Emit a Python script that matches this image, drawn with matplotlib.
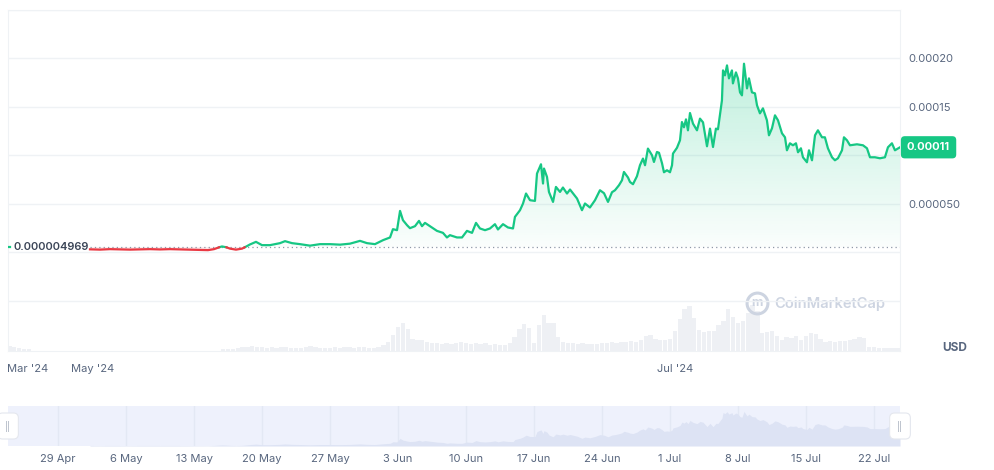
import matplotlib.colors as mcolors
import matplotlib.pyplot as plt
import numpy as np
from matplotlib.patches import PathPatch
from matplotlib.path import Path

plt.rcParams["font.family"] = ["Inter", "DejaVu Sans"]

# time axis: days counted from 29 Apr 2024
days = [
    3.29, 4.32, 5.35, 6.38, 7.41, 8.44, 9.47, 10.50, 11.53, 12.56,
    13.59, 14.62, 15.44, 16.06, 16.47, 16.88, 17.29, 17.71, 18.32, 18.94,
    19.35, 19.76, 20.38, 21.00, 21.82, 22.85, 23.37, 24.09, 24.91, 25.94,
    26.97, 28.00, 29.03, 30.06, 31.09, 31.81, 32.63, 33.46, 34.18, 34.48,
    34.90, 35.21, 35.51, 35.93, 36.23, 36.75, 37.16, 37.47, 37.78, 38.29,
    39.01, 39.63, 40.04, 40.35, 41.07, 41.59, 42.10, 42.62, 43.03, 43.44,
    43.96, 44.47, 44.98, 45.29, 45.81, 46.32, 46.84, 47.04, 47.56, 47.87,
    48.18, 48.59, 49.10, 49.31, 49.72, 49.93, 50.03, 50.34, 50.54, 50.96,
    51.26, 51.68, 51.98, 52.40, 52.71, 53.43, 53.94, 54.25, 54.76, 55.28,
    55.79, 56.21, 56.62, 57.03, 57.34, 57.75, 58.06, 58.26, 58.68, 58.88,
    59.19, 59.60, 59.91, 60.22, 60.43, 60.73, 61.15, 61.35, 61.66, 61.87,
    62.18, 62.38, 62.69, 63.00, 63.21, 63.31, 63.72, 64.03, 64.23, 64.44,
    64.65, 64.85, 65.06, 65.37, 65.78, 66.09, 66.40, 66.81, 67.12, 67.43,
    67.73, 67.94, 68.15, 68.35, 68.46, 68.66, 68.87, 69.07, 69.38, 69.48,
    69.79, 70.00, 70.21, 70.41, 70.62, 70.93, 71.13, 71.44, 71.75, 71.96,
    72.26, 72.57, 72.98, 73.19, 73.50, 73.81, 74.12, 74.53, 74.84, 75.04,
    75.35, 75.66, 75.97, 76.18, 76.48, 76.69, 77.10, 77.31, 77.62, 77.93,
    78.23, 78.65, 78.95, 79.26, 79.68, 79.98, 80.29, 80.71, 80.91, 81.22,
    81.53, 82.25, 82.87, 83.28, 83.59, 84.10, 84.62, 85.13, 85.44, 85.85,
    86.16, 86.68,
]
# price in millionths of a USD
price_micro = [
    2.89, 2.58, 3.09, 2.78, 2.58, 2.89, 3.09, 2.78, 3.09, 2.78,
    2.58, 2.27, 2.06, 3.09, 4.64, 5.88, 5.16, 3.61, 2.58, 3.61,
    5.67, 7.94, 10.62, 7.22, 7.22, 9.28, 11.34, 9.28, 8.25, 6.70,
    8.25, 8.25, 7.73, 8.76, 11.65, 9.28, 8.25, 12.37, 15.16, 23.71,
    22.68, 42.58, 32.99, 27.84, 24.74, 26.81, 32.27, 26.81, 30.21, 26.81,
    21.96, 19.90, 15.16, 17.53, 15.16, 15.16, 21.96, 19.90, 30.21, 24.43,
    22.68, 24.43, 28.87, 23.40, 28.87, 25.47, 24.43, 36.39, 43.30, 50.21,
    60.52, 53.61, 52.89, 81.14, 90.73, 70.83, 86.29, 77.63, 62.17, 51.86,
    67.32, 62.17, 66.71, 60.52, 64.64, 55.36, 43.30, 50.21, 46.09, 53.61,
    63.92, 60.83, 51.86, 61.86, 63.92, 69.08, 74.23, 82.79, 77.02, 72.48,
    70.11, 78.36, 89.70, 96.60, 89.70, 106.91, 100.01, 93.10, 103.41, 102.58,
    91.76, 82.48, 84.54, 82.48, 89.70, 101.77, 107.74, 115.47, 134.34, 128.88,
    137.12, 125.78, 143.62, 132.69, 125.78, 137.85, 134.03, 109.29, 127.54, 108.56,
    127.54, 126.81, 142.28, 156.71, 187.64, 182.49, 192.80, 179.39, 187.64, 174.24,
    185.58, 179.39, 164.96, 161.87, 194.55, 169.08, 179.39, 164.96, 163.93, 151.56,
    143.31, 148.46, 136.09, 120.63, 127.84, 141.25, 136.09, 122.69, 118.57, 105.16,
    112.38, 110.32, 112.38, 103.10, 107.22, 97.95, 92.79, 105.16, 94.85, 120.63,
    125.78, 118.57, 118.57, 107.22, 97.95, 94.85, 96.91, 105.16, 118.57, 115.47,
    110.32, 111.35, 110.32, 107.22, 97.95, 97.95, 96.91, 97.95, 108.26, 112.38,
    105.16, 108.26,
]
early_days = [-5.12, -4.95]
early_price_micro = [4.97, 4.97]
open_price = 0.000004969
open_label = "0.000004969"
last_label = "0.00011"

# volume, one bar per half day (arbitrary units)
vol_early_days = [-5.0, -4.5, -4.0, -3.5, -3.0]
vol_early = [5, 4, 3, 2, 2]
vol_first_day = 17.0
volume = [
    2, 2, 2, 3, 4, 4, 5, 4, 4, 3,
    4, 3, 4, 4, 3, 3, 3, 4, 5, 4,
    3, 3, 3, 4, 3, 4, 4, 3, 4, 4,
    3, 3, 4, 6, 9, 16, 24, 28, 22, 12,
    11, 11, 9, 8, 8, 7, 8, 7, 8, 9,
    8, 7, 8, 7, 8, 6, 7, 6, 6, 8,
    14, 22, 27, 23, 8, 26, 36, 28, 28, 14,
    9, 8, 8, 7, 8, 7, 7, 7, 8, 8,
    9, 8, 9, 9, 10, 9, 11, 15, 16, 12,
    11, 11, 12, 20, 32, 42, 45, 33, 21, 19,
    20, 20, 26, 30, 42, 34, 28, 30, 38, 46,
    40, 18, 19, 20, 15, 11, 14, 13, 15, 11,
    15, 18, 17, 12, 9, 10, 9, 10, 10, 11,
    12, 14, 13, 4, 4, 3, 3, 3, 3, 3,
]

main_ticks = [-3.1, 3.6, 63.5]
main_labels = ["Mar '24", "May '24", "Jul '24"]
nav_ticks = [0, 7, 14, 21, 28, 35, 42, 49, 56, 63, 70, 77, 84]
nav_labels = ["29 Apr", "6 May", "13 May", "20 May", "27 May", "3 Jun", "10 Jun",
              "17 Jun", "24 Jun", "1 Jul", "8 Jul", "15 Jul", "22 Jul"]
price_ticks = [-0.00005, 0, 0.00005, 0.0001, 0.00015, 0.0002, 0.00025]
price_labels = ["", "", "0.000050", "", "0.00015", "0.00020", ""]

GREEN = "#16c784"
RED = "#ea3943"
GREY = "#58667e"
LINE = "#eff2f5"
XMIN, XMAX = -5.15, 86.68


def split_at_base(x, y, base):
    # add a point wherever the line crosses the opening price
    xs, ys = [x[0]], [y[0]]
    for i in range(1, len(x)):
        y0, y1 = y[i - 1], y[i]
        if (y0 - base) * (y1 - base) < 0:
            t = (base - y0) / (y1 - y0)
            xs.append(x[i - 1] + t * (x[i] - x[i - 1]))
            ys.append(base)
        xs.append(x[i])
        ys.append(y1)
    return np.array(xs), np.array(ys)


d = np.array(days)
p = np.array(price_micro) * 1e-6

fig = plt.figure(figsize=(9.95, 4.70), dpi=100)
rect = [8 / 995, 119 / 470, 892 / 995, 341 / 470]

# volume underneath
ax_vol = fig.add_axes(rect)
ax_vol.bar(vol_early_days, vol_early, width=0.44, color="#eef0f4", lw=0)
vol_days = vol_first_day + 0.5 * np.arange(len(volume))
ax_vol.bar(vol_days, volume, width=0.44, color="#eef0f4", lw=0)
ax_vol.set_xlim(XMIN, XMAX)
ax_vol.set_ylim(0, 341)
ax_vol.axis("off")

ax = fig.add_axes(rect)
ax.patch.set_visible(False)

fx, fy = split_at_base(d, p, open_price)
above = np.where(fy >= open_price, fy, np.nan)
below = np.where(fy <= open_price, fy, np.nan)

fill = ax.fill_between(fx, fy, open_price, where=fy >= open_price,
                       interpolate=True, color="none", lw=0)
clip = PathPatch(Path.make_compound_path(*fill.get_paths()),
                 transform=ax.transData, fc="none", ec="none")
ax.add_patch(clip)
grad = np.zeros((256, 1, 4))
grad[..., :3] = mcolors.to_rgb(GREEN)
grad[..., 3] = np.linspace(0.02, 0.27, 256)[:, None]
im = ax.imshow(grad, extent=[fx[0], fx[-1], open_price, p.max()],
               origin="lower", aspect="auto", zorder=2)
im.set_clip_path(clip)
ax.fill_between(fx, fy, open_price, where=fy <= open_price,
                interpolate=True, color=RED, alpha=0.12, lw=0, zorder=2)

ax.hlines(open_price, d[0], d[-1], colors="#8f98a8",
          linestyles=(0, (1, 2.5)), lw=0.9, zorder=3)
ax.plot(fx, above, color=GREEN, lw=1.6, zorder=4)
ax.plot(fx, below, color=RED, lw=1.6, zorder=4)
ax.plot(early_days, np.array(early_price_micro) * 1e-6, color=GREEN, lw=1.6, zorder=4)

ax.set_xlim(XMIN, XMAX)
ax.set_ylim(-0.00010207, 0.0002495)
ax.set_yticks(price_ticks, price_labels)
ax.set_xticks(main_ticks, main_labels)
ax.yaxis.tick_right()
ax.grid(axis="y", color=LINE, lw=1)
ax.tick_params(axis="y", length=0, pad=6, labelsize=8, labelcolor=GREY)
ax.tick_params(axis="x", length=0, pad=9, labelsize=8, labelcolor=GREY)
for s in ax.spines.values():
    s.set_color(LINE)

ax.annotate(open_label, xy=(0, open_price), xycoords=("axes fraction", "data"),
            xytext=(5, 0), textcoords="offset pixels", ha="left", va="center",
            fontsize=8, color="#3c4658", fontweight="semibold", zorder=5)
ax.annotate(last_label, xy=(1, p[-1]), xycoords=("axes fraction", "data"),
            xytext=(7, 0), textcoords="offset pixels", ha="left", va="center",
            fontsize=8, color="white", fontweight="bold", annotation_clip=False,
            bbox=dict(boxstyle="round,pad=0.55,rounding_size=0.35", fc=GREEN, ec="none"),
            zorder=6)

# watermark
wm = "#cdd4e1"
ax.plot([0.8397], [0.1408], transform=ax.transAxes, marker="o", ms=15,
        mfc="none", mec=wm, mew=2.2, zorder=1)
ax.text(0.8397, 0.1408, "m", transform=ax.transAxes, ha="center", va="center",
        fontsize=9, fontweight="bold", color=wm, zorder=1)
ax.text(0.859, 0.138, "CoinMarketCap", transform=ax.transAxes, ha="left",
        va="center", fontsize=10.6, fontweight="semibold", color=wm, zorder=1)

fig.text(955 / 995, 1 - 348 / 470, "USD", ha="center", va="center",
         fontsize=8.5, fontweight="bold", color=GREY)

# navigator strip
nav = fig.add_axes([8 / 995, 24 / 470, 892 / 995, 40 / 470])
nav.set_facecolor("#eef1fc")
nav.fill_between(d, p, 0, color="#dde3f4", lw=0, zorder=2)
nav.set_xlim(XMIN, XMAX)
nav.set_ylim(0, 0.000225)
nav.set_xticks(nav_ticks, nav_labels)
nav.set_yticks([])
nav.grid(axis="x", color="#e3e8f4", lw=1, zorder=1)
nav.tick_params(axis="x", length=0, pad=6, labelsize=8, labelcolor=GREY)
for s in nav.spines.values():
    s.set_visible(False)
for xpos in (0, 1):
    nav.annotate("||", xy=(xpos, 0.5), xycoords="axes fraction", ha="center",
                 va="center", fontsize=6, color="#9aa3b3", annotation_clip=False,
                 bbox=dict(boxstyle="round,pad=0.9,rounding_size=0.6",
                           fc="white", ec="#e4e7ee", lw=0.8),
                 zorder=5)

fig.savefig("out.png", dpi=100, facecolor="white")
